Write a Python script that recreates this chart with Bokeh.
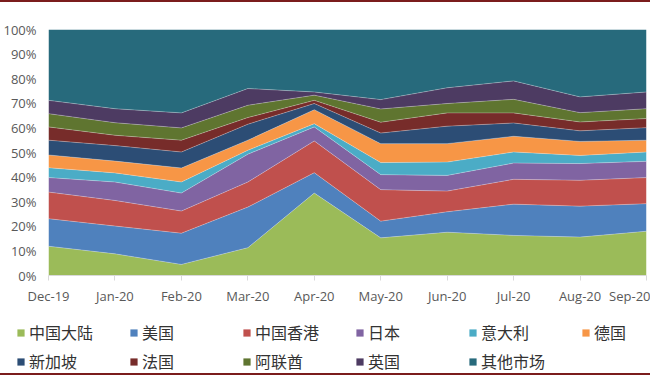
from bokeh.plotting import figure
from bokeh.layouts import column
from bokeh.models import ColumnDataSource, FixedTicker, Legend, LegendItem, PrintfTickFormatter, Range1d
from bokeh.embed import file_html
from bokeh.resources import INLINE

months = ["Dec-19", "Jan-20", "Feb-20", "Mar-20", "Apr-20", "May-20", "Jun-20", "Jul-20", "Aug-20", "Sep-20"]

china_mainland = [11.9, 8.8, 4.5, 11.3, 33.5, 15.3, 17.6, 16.3, 15.6, 18.0]
usa            = [11.2, 11.3, 12.7, 16.5, 8.3, 6.8, 8.3, 12.7, 12.6, 11.2]
hong_kong      = [10.8, 10.4, 9.0, 10.2, 12.9, 12.8, 8.4, 10.1, 10.5, 10.6]
japan          = [5.9, 7.5, 7.3, 11.3, 5.7, 6.1, 6.4, 6.6, 6.8, 6.6]
italy          = [4.0, 3.7, 4.5, 1.6, 1.3, 4.9, 5.4, 4.5, 3.3, 3.8]
germany        = [5.2, 4.8, 5.7, 4.1, 5.7, 7.7, 7.5, 6.4, 5.7, 4.8]
singapore      = [6.0, 6.3, 6.5, 6.5, 2.5, 4.3, 7.1, 5.4, 4.3, 5.1]
france         = [5.4, 4.2, 4.8, 2.7, 1.3, 4.4, 5.4, 4.1, 3.6, 3.7]
uae            = [5.4, 5.1, 5.0, 5.0, 2.1, 5.4, 3.8, 5.5, 3.8, 4.0]
uk             = [5.4, 5.7, 6.1, 6.8, 1.3, 3.8, 6.4, 7.5, 6.4, 6.8]
others         = [28.8, 32.2, 33.9, 24.0, 25.4, 28.5, 23.7, 20.9, 27.4, 25.4]

names = ["中国大陆", "美国", "中国香港", "日本", "意大利", "德国",
         "新加坡", "法国", "阿联酋", "英国", "其他市场"]
colors = ["#9BBB59", "#4F81BD", "#C0504D", "#8064A2", "#4BACC6", "#F79646",
          "#2C4D75", "#772C2A", "#5F7530", "#4D3B62", "#276A7C"]
y_ticks = [0, 10, 20, 30, 40, 50, 60, 70, 80, 90, 100]

series = [china_mainland, usa, hong_kong, japan, italy, germany,
          singapore, france, uae, uk, others]
keys = ["s%d" % i for i in range(len(series))]
data = {"x": list(range(len(months)))}
for k, s in zip(keys, series):
    data[k] = s
source = ColumnDataSource(data)

# ---- main chart ----
p = figure(frame_width=598, frame_height=246, x_range=(0, len(months) - 1), y_range=(0, 100),
           output_backend="svg", toolbar_location=None,
           min_border_left=0, min_border_right=4, min_border_top=27, min_border_bottom=0)

p.varea_stack(keys, x="x", source=source, color=colors)
p.vline_stack(keys[:-1], x="x", source=source, line_color="white", line_alpha=0.35, line_width=0.8)

p.xgrid.visible = False
p.ygrid.visible = False
p.outline_line_color = None
p.background_fill_color = "white"

xa = p.xaxis[0]
xa.ticker = FixedTicker(ticks=list(range(len(months))))
xa.major_label_overrides = {i: m for i, m in enumerate(months)}
xa.axis_line_color = "#D9D9D9"
xa.major_tick_line_color = "#D9D9D9"
xa.major_tick_out = 5
xa.major_tick_in = 0
xa.minor_tick_line_color = None
xa.major_label_text_font = "Open Sans"
xa.major_label_text_font_size = "13px"
xa.major_label_text_color = "#595959"
xa.major_label_standoff = 6

ya = p.yaxis[0]
ya.ticker = FixedTicker(ticks=y_ticks)
ya.formatter = PrintfTickFormatter(format="%d%%")
ya.axis_line_color = None
ya.major_tick_line_color = None
ya.minor_tick_line_color = None
ya.major_label_text_font = "Open Sans"
ya.major_label_text_font_size = "13px"
ya.major_label_text_color = "#595959"
ya.major_label_standoff = 6

# ---- legend strip ----
lg = figure(frame_width=650, frame_height=66, x_range=Range1d(100, 101), y_range=Range1d(1000, 1001),
            output_backend="svg", toolbar_location=None,
            x_axis_location=None, y_axis_location=None, min_border=0)
lg.grid.visible = False
lg.outline_line_color = None
leg_renderers = lg.varea_stack(keys, x="x", source=source, color=colors)

items = [LegendItem(label=n, renderers=[r]) for n, r in zip(names, leg_renderers)]
legend = Legend(items=items, orientation="horizontal", ncols=6,
                location=(16, 0), padding=0, margin=0, spacing=5,
                glyph_width=9, glyph_height=9, label_standoff=4,
                label_width=95, label_height=20,
                label_text_font="Noto Sans CJK SC", label_text_font_size="16px",
                label_text_color="#333333",
                border_line_color=None, background_fill_alpha=0)
lg.add_layout(legend, "center")

layout = column(p, lg, spacing=0)
layout.styles = {"border-top": "2px solid #7B1C1C", "border-bottom": "2px solid #7B1C1C"}

open("out.html", "w").write(file_html(layout, INLINE))
